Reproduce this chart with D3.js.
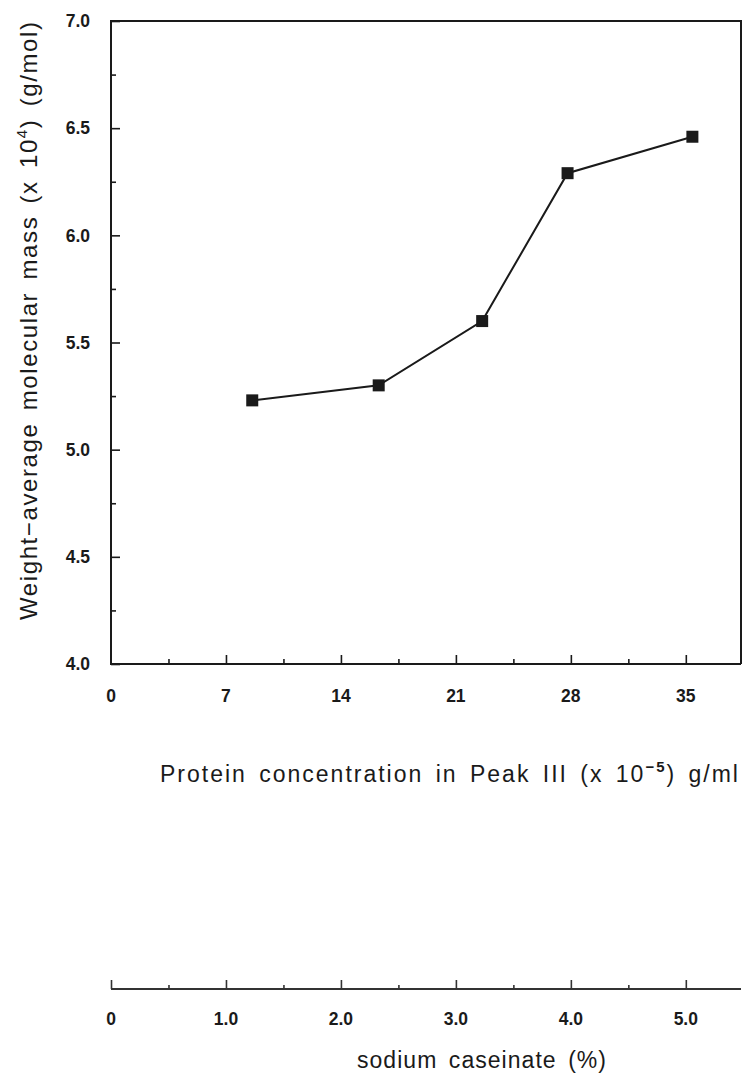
<!DOCTYPE html>
<html>
<head>
<meta charset="utf-8">
<script src="https://cdn.jsdelivr.net/npm/d3@7"></script>
<style>
  html, body { margin: 0; padding: 0; background: #fff; }
  svg { display: block; }
  text { font-family: "Liberation Sans", Arial, sans-serif; fill: #1a1a1a; }
</style>
</head>
<body>
<svg id="chart" width="742" height="1078"></svg>
<script>
// Protein concentration in Peak III (x 10^-5 g/ml)
const concentration = [8.6, 16.3, 22.6, 27.8, 35.4];
// Weight-average molecular mass (x 10^4 g/mol)
const molarMass = [5.23, 5.30, 5.60, 6.29, 6.46];

const xMajorTicks = [0, 7, 14, 21, 28, 35];
const xMinorTicks = [3.5, 10.5, 17.5, 24.5, 31.5, 38.5];
const yMajorTicks = [4.0, 4.5, 5.0, 5.5, 6.0, 6.5, 7.0];
const yMinorTicks = [4.25, 4.75, 5.25, 5.75, 6.25, 6.75];
const caseinMajorTicks = [0, 1, 2, 3, 4, 5];
const caseinMinorTicks = [0.5, 1.5, 2.5, 3.5, 4.5, 5.5];
const caseinLabels = ["0", "1.0", "2.0", "3.0", "4.0", "5.0"];

const svg = d3.select("#chart");
const ink = "#1a1a1a";

const plotL = 111, plotR = 741, plotT = 21, plotB = 664;
const x = d3.scaleLinear().domain([0, 38.36]).range([plotL, plotR]);
const y = d3.scaleLinear().domain([4, 7]).range([plotB, plotT]);
// 1 % sodium caseinate corresponds to 7 x 10^-5 g/ml in Peak III
const xc = d3.scaleLinear().domain([0, 38.36 / 7]).range([plotL, plotR]);

// frame
svg.append("path")
  .attr("d", `M${plotR},${plotB}V${plotT}H${plotL}V${plotB}H${plotR}`)
  .attr("fill", "none").attr("stroke", ink).attr("stroke-width", 2);

// y axis: ticks pointing into the plot
svg.append("g").attr("transform", `translate(${plotL},0)`)
  .call(d3.axisRight(y).tickValues(yMajorTicks).tickSize(9).tickFormat(""))
  .call(a => a.select(".domain").remove())
  .selectAll("line").attr("stroke", ink).attr("stroke-width", 1.6);
svg.append("g").attr("transform", `translate(${plotL},0)`)
  .call(d3.axisRight(y).tickValues(yMinorTicks).tickSize(5).tickFormat(""))
  .call(a => a.select(".domain").remove())
  .selectAll("line").attr("stroke", ink).attr("stroke-width", 1.6);
svg.append("g").selectAll("text").data(yMajorTicks).join("text")
  .attr("x", 90).attr("y", d => y(d)).attr("dy", "0.36em")
  .attr("text-anchor", "end").attr("font-size", 17.5).attr("font-weight", "bold")
  .text(d => d3.format(".1f")(d));

// x axis: ticks pointing up into the plot
svg.append("g").attr("transform", `translate(0,${plotB})`)
  .call(d3.axisTop(x).tickValues(xMajorTicks.filter(d => d > 0)).tickSize(9).tickFormat(""))
  .call(a => a.select(".domain").remove())
  .selectAll("line").attr("stroke", ink).attr("stroke-width", 1.6);
svg.append("g").attr("transform", `translate(0,${plotB})`)
  .call(d3.axisTop(x).tickValues(xMinorTicks).tickSize(5).tickFormat(""))
  .call(a => a.select(".domain").remove())
  .selectAll("line").attr("stroke", ink).attr("stroke-width", 1.6);
svg.append("g").selectAll("text").data(xMajorTicks).join("text")
  .attr("x", d => x(d)).attr("y", 702)
  .attr("text-anchor", "middle").attr("font-size", 17.5).attr("font-weight", "bold")
  .text(d => d);

// x title
const xt = svg.append("text").attr("x", 160).attr("y", 782)
  .attr("font-size", 23).attr("word-spacing", 4)
  .attr("textLength", 578).attr("lengthAdjust", "spacing");
xt.append("tspan").text("Protein concentration in Peak III (x 10");
xt.append("tspan").attr("font-size", 15).attr("font-weight", "bold").attr("dy", -10).text("\u22125");
xt.append("tspan").attr("dy", 10).text(") g/ml");

// y title
const yt = svg.append("text")
  .attr("transform", "translate(37,620) rotate(-90)")
  .attr("font-size", 24).attr("word-spacing", 4)
  .attr("textLength", 598).attr("lengthAdjust", "spacing");
yt.append("tspan").text("Weight\u2212average molecular mass (x 10");
yt.append("tspan").attr("font-size", 15).attr("dy", -10).text("4");
yt.append("tspan").attr("dy", 10).text(") (g/mol)");

// connecting line and square markers
const pts = concentration.map((c, i) => [c, molarMass[i]]);
svg.append("path").datum(pts)
  .attr("d", d3.line().x(d => x(d[0])).y(d => y(d[1])))
  .attr("fill", "none").attr("stroke", ink).attr("stroke-width", 2);
svg.append("g").selectAll("rect").data(pts).join("rect")
  .attr("x", d => x(d[0]) - 6).attr("y", d => y(d[1]) - 6)
  .attr("width", 12).attr("height", 12).attr("fill", ink);

// secondary sodium caseinate scale
const cy = 989;
svg.append("line").attr("x1", plotL).attr("x2", plotR).attr("y1", cy).attr("y2", cy)
  .attr("stroke", "#333").attr("stroke-width", 2);
svg.append("g").attr("transform", `translate(0,${cy})`)
  .call(d3.axisTop(xc).tickValues(caseinMajorTicks).tickSize(9).tickFormat(""))
  .call(a => a.select(".domain").remove())
  .selectAll("line").attr("stroke", "#333").attr("stroke-width", 1.6);
svg.append("g").attr("transform", `translate(0,${cy})`)
  .call(d3.axisTop(xc).tickValues(caseinMinorTicks).tickSize(4).tickFormat(""))
  .call(a => a.select(".domain").remove())
  .selectAll("line").attr("stroke", "#333").attr("stroke-width", 1.6);
svg.append("g").selectAll("text").data(caseinMajorTicks).join("text")
  .attr("x", d => xc(d)).attr("y", 1025)
  .attr("text-anchor", "middle").attr("font-size", 17.5).attr("font-weight", "bold")
  .text((d, i) => caseinLabels[i]);
svg.append("text").attr("x", 357).attr("y", 1068)
  .attr("font-size", 23).attr("word-spacing", 4)
  .attr("textLength", 249).attr("lengthAdjust", "spacing")
  .text("sodium caseinate (%)");
</script>
</body>
</html>
